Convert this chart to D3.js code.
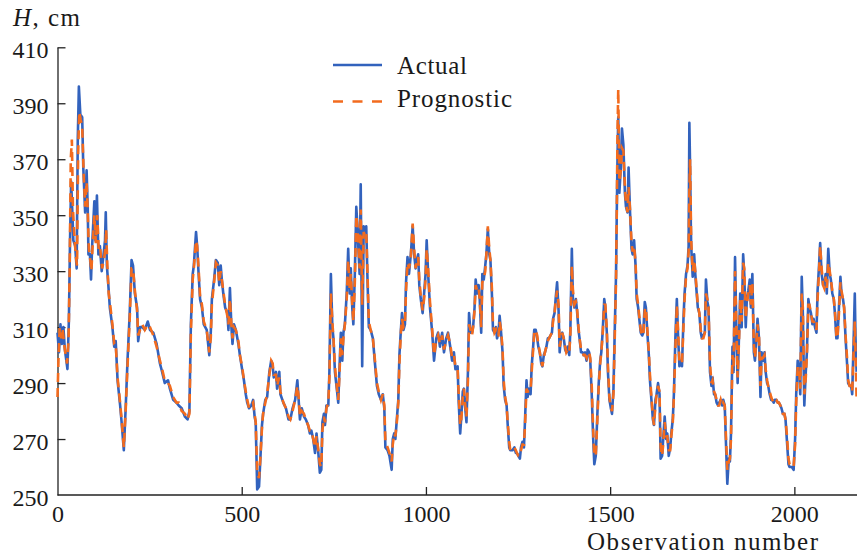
<!DOCTYPE html>
<html>
<head>
<meta charset="utf-8">
<script src="https://cdn.jsdelivr.net/npm/d3@7"></script>
<style>
  body { margin: 0; background: #fff; }
</style>
</head>
<body>
<div id="chart"></div>
<script>
// values: [observation number, H in cm]
var actual = [
  [0,308],[4,301],[8,311],[12,304],[16,310],[20,302],[24,298],[27,295],[31,313],[34,341],[37,362],[40,352],[43,341],[48,339],[52,331],[55,377],[58,396],[62,386],[67,385],[70,367],
  [75,351],[79,366],[82,353],[84,336],[88,336],[91,327],[94,339],[100,355],[103,341],[107,357],[111,336],[115,339],[120,330],[125,336],[129,341],[131,351],[134,332],[138,325],[142,317],[149,310],
  [154,303],[158,305],[163,291],[170,282],[174,276],[180,266],[185,281],[190,298],[196,315],[201,334],[205,332],[210,322],[216,317],[219,305],[224,310],[230,310],[237,309],[245,312],[251,309],[260,308],
  [269,304],[278,297],[284,294],[291,290],[300,291],[305,288],[314,284],[323,283],[329,282],[337,281],[346,278],[353,277],[358,280],
  [362,311],[367,329],[370,332],[376,344],[379,339],[383,329],[387,320],[392,317],[397,311],[405,309],[412,300],[416,308],[419,320],[425,327],[430,334],[435,333],[439,325],[443,332],[446,327],[450,322],
  [455,317],[461,315],[464,309],[468,324],[472,310],[475,304],[479,311],[484,309],[491,304],[495,300],[501,295],[506,291],[511,286],[515,283],[520,281],[526,282],[531,284],[535,278],[538,276],[542,252],
  [547,253],[551,264],[555,275],[558,279],[564,284],[569,285],[575,294],[580,298],[584,296],[587,292],[593,294],[596,288],[602,294],[605,286],[613,283],[620,281],[627,277],[632,277],[638,281],[645,284],
  [651,291],[654,285],[658,277],[663,281],[669,278],[674,277],[680,275],[685,272],[689,273],[694,270],[699,265],[703,272],[708,265],[712,258],[716,259],[719,276],[723,279],
  [726,275],[730,282],[735,282],[738,294],[742,329],[746,310],[749,306],[753,294],[758,288],[762,283],[765,294],[769,308],[773,298],[776,308],[780,311],[785,322],[789,338],[793,322],[796,331],[800,317],
  [803,311],[807,329],[811,353],[814,346],[820,329],[823,361],[827,296],[831,346],[834,344],[838,346],[841,329],[845,310],[850,309],[856,306],[861,298],[867,289],[872,286],[878,284],[883,286],[887,281],
  [890,267],[896,266],[901,264],[907,259],[910,270],[914,272],[917,270],[921,277],[925,284],[928,300],[932,309],[935,315],[939,309],[943,311],[946,326],[950,335],[954,329],[959,336],[964,346],[968,336],
  [972,331],[975,334],[979,336],[982,325],[986,320],[991,315],[995,322],[999,329],[1002,341],[1006,329],[1011,317],[1017,308],[1022,298],[1028,306],[1033,308],[1038,303],[1044,308],[1049,301],[1055,306],[1060,308],
  [1066,303],[1071,298],[1076,301],[1080,295],[1086,296],[1089,283],[1093,272],[1096,278],[1100,287],[1103,288],[1106,282],[1110,276],[1114,294],[1117,315],[1121,308],[1125,308],[1128,310],[1132,317],[1135,327],[1139,322],
  [1143,325],[1146,320],[1150,308],[1153,329],[1157,327],[1161,332],[1164,336],[1168,345],[1172,336],[1175,334],[1179,322],[1182,309],[1186,308],[1190,310],[1193,306],[1197,308],[1200,314],[1204,308],[1208,301],[1211,289],
  [1215,284],[1219,282],[1222,275],[1226,267],[1229,266],[1235,266],[1240,267],[1244,265],[1247,265],[1251,264],[1255,263],[1258,267],[1262,269],[1266,267],[1269,277],[1273,291],[1276,285],[1280,288],[1284,286],[1287,296],
  [1291,303],[1294,309],[1298,309],[1302,306],[1305,303],[1309,301],[1313,297],[1316,296],[1320,300],[1323,301],[1327,303],[1331,306],[1334,306],[1338,307],[1342,308],[1345,313],[1349,315],[1352,320],[1356,326],[1360,316],
  [1363,301],[1367,307],[1370,308],[1374,306],[1378,302],[1381,301],[1385,303],[1389,300],[1392,309],[1396,338],[1399,320],[1403,317],[1407,320],[1410,316],[1414,309],[1417,306],[1421,301],[1425,301],[1428,300],[1432,301],
  [1436,298],[1439,302],[1443,301],[1446,298],[1450,286],[1454,270],[1457,261],[1461,264],[1465,278],[1469,290],[1473,298],[1476,301],[1480,309],[1484,320],[1487,317],[1491,308],[1494,294],[1498,284],[1502,281],[1505,279],
  [1509,288],[1512,306],[1516,329],[1518,351],[1520,371],[1522,385],[1525,358],[1529,367],[1532,381],[1536,375],[1540,358],[1543,353],[1547,351],[1550,367],[1554,351],[1558,338],[1561,336],[1565,341],[1569,332],[1572,320],
  [1576,317],[1579,313],[1583,308],[1587,307],[1590,308],[1594,319],[1597,317],[1601,308],[1605,300],[1608,291],[1612,284],[1616,277],[1619,275],[1623,284],[1626,286],[1630,290],[1634,286],[1637,263],[1641,264],[1644,270],
  [1648,278],[1652,270],[1655,272],[1659,264],[1663,267],[1666,272],[1670,277],[1673,286],[1677,306],[1681,320],[1684,308],[1688,296],[1691,298],[1695,296],[1699,313],[1702,322],[1706,329],[1710,332],[1713,339],[1715,383],
  [1717,367],[1719,346],[1720,339],[1724,328],[1728,336],[1731,329],[1735,322],[1738,317],[1742,315],[1746,308],[1749,306],[1753,307],[1757,308],[1760,327],[1764,319],[1767,317],[1771,294],[1775,289],[1778,292],[1782,286],
  [1785,286],[1789,283],[1793,282],[1796,283],[1800,284],[1804,282],[1807,284],[1811,282],[1814,270],[1818,254],[1822,263],[1825,262],[1828,272],[1832,303],[1835,294],[1839,335],[1843,306],[1846,290],[1850,308],[1853,322],
  [1857,310],[1861,336],[1864,329],[1868,310],[1871,320],[1875,323],[1879,327],[1882,317],[1886,329],[1890,301],[1893,298],[1897,306],[1900,313],[1904,306],[1908,285],[1911,301],[1915,298],[1919,301],[1922,294],[1926,290],
  [1929,289],[1933,286],[1937,284],[1940,284],[1944,283],[1947,284],[1951,284],[1955,283],[1958,283],[1962,282],[1965,281],[1969,279],[1973,279],[1976,277],[1980,269],[1984,261],[1987,260],[1993,260],[1998,259],[2002,270],
  [2005,286],[2009,298],[2013,294],[2016,286],[2020,328],[2023,315],[2027,282],[2031,294],[2034,301],[2038,320],[2041,317],[2045,315],[2049,311],[2052,313],[2056,310],[2060,308],[2063,323],[2067,332],[2070,340],[2074,329],
  [2078,325],[2081,325],[2085,329],[2088,322],[2092,338],[2096,329],[2099,327],[2103,322],[2107,320],[2110,315],[2114,306],[2117,306],[2121,317],[2125,328],[2128,322],[2132,320],[2135,317],[2139,306],[2143,297],[2146,290],
  [2150,289],[2154,289],[2157,286],[2161,306],[2164,322],[2166,306],[2169,294]
];

var prognostic = [
  [0,285],[3,300],[6,310],[10,306],[14,309],[18,304],[22,300],[26,297],[30,305],[33,330],[36,370],[39,377],[42,352],[46,342],[50,335],[53,332],[56,372],[59,387],[63,384],[67,382],
  [71,365],[75,353],[79,362],[82,352],[85,338],[89,334],[92,330],[95,338],[100,350],[104,340],[108,350],[112,337],[116,338],[121,331],[126,334],[130,338],[132,345],[135,333],[139,322],[143,318],
  [149,311],[154,304],[158,304],[163,292],[170,283],[174,277],[180,267],[185,280],[190,296],[196,313],[201,331],[205,331],[210,323],[216,316],[219,307],[224,309],[230,311],[237,309],[245,311],[251,310],
  [260,307],[269,303],[278,298],[284,295],[291,291],[300,290],[305,289],[314,285],[323,283],[329,283],[337,280],[346,279],[353,277],[358,279],
  [362,308],[367,327],[370,331],[376,341],[379,339],[383,331],[387,321],[392,318],[397,312],[405,309],[412,301],[416,306],[419,318],[425,326],[430,333],[435,332],[439,326],[443,330],[446,327],[450,323],
  [455,318],[461,314],[464,311],[468,320],[472,311],[475,306],[479,310],[484,309],[491,305],[495,300],[501,296],[506,291],[511,287],[515,284],[520,281],[526,282],[531,283],[535,279],[538,276],[542,258],
  [547,256],[551,264],[555,274],[558,279],[564,283],[569,286],[575,293],[580,298],[584,297],[587,293],[593,293],[596,289],[602,292],[605,287],[613,283],[620,281],[627,278],[632,277],[638,280],[645,284],
  [651,289],[654,286],[658,278],[663,280],[669,279],[674,277],[680,275],[685,273],[689,273],[694,270],[699,267],[703,271],[708,266],[712,261],[716,260],[719,273],[723,278],
  [726,276],[730,281],[735,283],[738,292],[742,322],[746,312],[749,306],[753,296],[758,289],[762,284],[765,292],[769,306],[773,300],[776,306],[780,311],[785,320],[789,334],[793,324],[796,329],[800,318],
  [803,312],[807,326],[811,350],[814,346],[820,331],[823,352],[827,318],[831,344],[834,343],[838,344],[841,331],[845,312],[850,309],[856,306],[861,299],[867,290],[872,287],[878,284],[883,286],[887,282],
  [890,269],[896,267],[901,265],[907,262],[910,268],[914,272],[917,271],[921,276],[925,283],[928,297],[932,308],[935,313],[939,310],[943,311],[946,323],[950,333],[954,331],[959,335],[964,347],[968,338],
  [972,331],[975,333],[979,335],[982,327],[986,321],[991,316],[995,320],[999,327],[1002,338],[1006,331],[1011,319],[1017,309],[1022,300],[1028,305],[1033,307],[1038,304],[1044,307],[1049,302],[1055,305],[1060,307],
  [1066,304],[1071,299],[1076,300],[1080,296],[1086,295],[1089,286],[1093,275],[1096,277],[1100,285],[1103,288],[1106,283],[1110,278],[1114,291],[1117,311],[1121,309],[1125,307],[1128,310],[1132,316],[1135,325],[1139,323],
  [1143,324],[1146,320],[1150,310],[1153,326],[1157,327],[1161,330],[1164,336],[1168,346],[1172,338],[1175,334],[1179,324],[1182,311],[1186,308],[1190,309],[1193,307],[1197,307],[1200,312],[1204,309],[1208,302],[1211,291],
  [1215,285],[1219,282],[1222,276],[1226,269],[1229,266],[1235,267],[1240,267],[1244,266],[1247,265],[1251,264],[1255,264],[1258,266],[1262,268],[1266,268],[1269,275],[1273,288],[1276,287],[1280,287],[1284,287],[1287,294],
  [1291,302],[1294,308],[1298,309],[1302,307],[1305,304],[1309,301],[1313,298],[1316,296],[1320,299],[1323,301],[1327,303],[1331,305],[1334,306],[1338,307],[1342,308],[1345,312],[1349,315],[1352,319],[1356,323],[1360,318],
  [1363,303],[1367,306],[1370,308],[1374,306],[1378,303],[1381,301],[1385,302],[1389,301],[1392,307],[1396,332],[1399,323],[1403,318],[1407,319],[1410,317],[1414,310],[1417,306],[1421,302],[1425,301],[1428,300],[1432,300],
  [1436,299],[1439,301],[1443,301],[1446,299],[1450,289],[1454,273],[1457,264],[1461,264],[1465,276],[1469,289],[1473,297],[1476,301],[1480,308],[1484,318],[1487,318],[1491,309],[1494,296],[1498,285],[1502,281],[1505,280],
  [1509,286],[1512,303],[1516,327],[1518,352],[1520,380],[1522,395],[1525,362],[1529,366],[1532,374],[1536,373],[1540,360],[1543,354],[1547,351],[1550,360],[1554,352],[1558,340],[1561,337],[1565,339],[1569,333],[1572,322],
  [1576,318],[1579,314],[1583,309],[1587,307],[1590,307],[1594,316],[1597,317],[1601,309],[1605,301],[1608,293],[1612,285],[1616,278],[1619,275],[1623,282],[1626,286],[1630,289],[1634,287],[1637,267],[1641,264],[1644,268],
  [1648,276],[1652,271],[1655,271],[1659,266],[1663,266],[1666,271],[1670,276],[1673,285],[1677,302],[1681,318],[1684,310],[1688,298],[1691,297],[1695,297],[1699,310],[1702,320],[1706,328],[1710,331],[1713,337],[1715,358],
  [1717,370],[1719,350],[1720,341],[1724,330],[1728,334],[1731,330],[1735,323],[1738,318],[1742,315],[1746,309],[1749,306],[1753,306],[1757,308],[1760,322],[1764,320],[1767,317],[1771,297],[1775,290],[1778,291],[1782,287],
  [1785,286],[1789,284],[1793,282],[1796,282],[1800,284],[1804,282],[1807,283],[1811,282],[1814,272],[1818,259],[1822,262],[1825,263],[1828,270],[1832,300],[1835,296],[1839,330],[1843,309],[1846,292],[1850,306],[1853,320],
  [1857,312],[1861,333],[1864,331],[1868,313],[1871,318],[1875,322],[1879,325],[1882,318],[1886,326],[1890,304],[1893,299],[1897,305],[1900,311],[1904,307],[1908,289],[1911,299],[1915,299],[1919,300],[1922,295],[1926,291],
  [1929,289],[1933,287],[1937,285],[1940,284],[1944,283],[1947,284],[1951,284],[1955,283],[1958,283],[1962,282],[1965,281],[1969,279],[1973,279],[1976,277],[1980,271],[1984,263],[1987,261],[1993,260],[1998,260],[2002,268],
  [2005,283],[2009,296],[2013,295],[2016,288],[2020,322],[2023,317],[2027,286],[2031,292],[2034,300],[2038,318],[2041,318],[2045,315],[2049,312],[2052,312],[2056,311],[2060,309],[2063,320],[2067,330],[2070,339],[2074,331],
  [2078,325],[2081,324],[2085,328],[2088,324],[2092,333],[2096,330],[2099,327],[2103,323],[2107,320],[2110,316],[2114,307],[2117,306],[2121,315],[2125,326],[2128,323],[2132,320],[2135,317],[2139,307],[2143,299],[2146,291],
  [2150,289],[2154,289],[2157,287],[2161,302],[2164,312],[2166,300],[2169,284]
];

var xTicks = [0, 500, 1000, 1500, 2000];
var yTicks = [250, 270, 290, 310, 330, 350, 370, 390, 410];
var seriesNames = ["Actual", "Prognostic"];

var width = 857, height = 554;
var blue = "#3262bd", orange = "#f26b1e";
var font = "Liberation Serif";

var svg = d3.select("#chart").append("svg")
  .attr("width", width)
  .attr("height", height);

var x = d3.scaleLinear().domain([0, 2170]).range([57.5, 857]);
var y = d3.scaleLinear().domain([250, 410]).range([495, 47.3]);

// axes, ticks pointing inward
var xAxis = svg.append("g")
  .attr("transform", "translate(0," + y(250) + ")")
  .call(d3.axisBottom(x).tickValues(xTicks).tickFormat(d3.format("d"))
    .tickSizeInner(-8).tickSizeOuter(0).tickPadding(10));
xAxis.select(".domain").attr("d", "M" + x(0) + ",0H" + width);

var yAxis = svg.append("g")
  .attr("transform", "translate(" + x(0) + ",0)")
  .call(d3.axisLeft(y).tickValues(yTicks).tickFormat(d3.format("d"))
    .tickSizeInner(-8).tickSizeOuter(0).tickPadding(9));
yAxis.selectAll(".tick text").attr("dy", "0.42em");

svg.selectAll("g").attr("font-family", font).attr("font-size", 24);
svg.selectAll(".tick text").attr("fill", "#1a1a1a");
svg.selectAll(".domain, .tick line").attr("stroke", "#222").attr("stroke-width", 1.3);
yAxis.selectAll(".tick").filter(function (d) { return d === 250; }).select("line").remove();
xAxis.selectAll(".tick").filter(function (d) { return d === 0; }).select("line").remove();

var line = d3.line()
  .x(function (d) { return x(d[0]); })
  .y(function (d) { return y(d[1]); });

svg.append("path")
  .datum(actual)
  .attr("fill", "none")
  .attr("stroke", blue)
  .attr("stroke-width", 2.6)
  .attr("stroke-linejoin", "round")
  .attr("d", line);

svg.append("path")
  .datum(prognostic)
  .attr("fill", "none")
  .attr("stroke", orange)
  .attr("stroke-width", 2.6)
  .attr("stroke-dasharray", "9,6")
  .attr("d", line);

// axis titles
var yTitle = svg.append("text")
  .attr("x", 13).attr("y", 26)
  .attr("font-family", font).attr("font-size", 25)
  .attr("fill", "#1a1a1a")
  .attr("textLength", 67).attr("lengthAdjust", "spacing");
yTitle.append("tspan").attr("font-style", "italic").text("H");
yTitle.append("tspan").text(", cm");

svg.append("text")
  .attr("x", 587).attr("y", 550)
  .attr("font-family", font).attr("font-size", 25)
  .attr("fill", "#1a1a1a")
  .attr("textLength", 231).attr("lengthAdjust", "spacing")
  .text("Observation number");

// legend
var legendRows = [
  { lineY: 65, textY: 73.5, width: 70, color: blue, dash: null },
  { lineY: 101.5, textY: 106.5, width: 115, color: orange, dash: "10,9.5" }
];
var legend = svg.append("g");
seriesNames.forEach(function (name, i) {
  var r = legendRows[i];
  legend.append("line")
    .attr("x1", 333).attr("x2", 382)
    .attr("y1", r.lineY).attr("y2", r.lineY)
    .attr("stroke", r.color)
    .attr("stroke-width", 2.6)
    .attr("stroke-dasharray", r.dash);
  legend.append("text")
    .attr("x", 397).attr("y", r.textY)
    .attr("font-family", font).attr("font-size", 25)
    .attr("fill", "#1a1a1a")
    .attr("textLength", r.width).attr("lengthAdjust", "spacing")
    .text(name);
});
</script>
</body>
</html>
